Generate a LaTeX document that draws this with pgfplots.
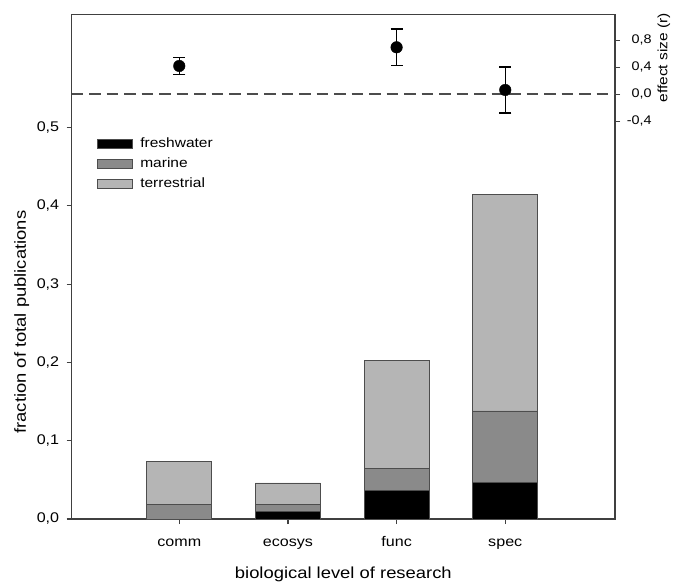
\documentclass[border=0pt]{standalone}
\usepackage{fontspec}
\setmainfont{Liberation Sans}[FakeStretch=1.15]
\usepackage{pgfplots}
\pgfplotsset{compat=1.18}

\definecolor{fresh}{HTML}{000000}
\definecolor{marine}{HTML}{8A8A8A}
\definecolor{terr}{HTML}{B5B5B5}
\definecolor{edge}{HTML}{4D4D4D}
\definecolor{axisgray}{HTML}{404040}

\pgfplotsset{
  common/.style={
    at={(71.7pt,63pt)}, anchor=south west,
    scale only axis, width=543.3pt, height=504.7pt,
    xmin=-0.99, xmax=4.01,
    tick align=outside, major tick length=5pt,
    axis line style={axisgray, line width=1.2pt},
    tick style={axisgray, line width=1.2pt},
    /pgf/number format/.cd, use comma, fixed, fixed zerofill, precision=1, assume math mode=true,
  },
}

\begin{document}
\begin{tikzpicture}
\path[use as bounding box] (0,0) rectangle (673pt,582pt);

% bars: fraction of publications
\begin{axis}[common,
  ymin=0, ymax=0.6446,
  ybar stacked, bar width=65pt,
  xtick={0,1,2,3}, xticklabels={comm,ecosys,func,spec},
  ytick={0,0.1,0.2,0.3,0.4,0.5},
  xtick pos=bottom, ytick pos=left,
  tick label style={font=\fontsize{14}{16}\selectfont},
  xticklabel style={text height=10pt, text depth=3pt, yshift=-9pt},
  yticklabel style={xshift=-4pt},
  xlabel={biological level of research},
  ylabel={fraction of total publications},
  label style={font=\fontsize{16}{18}\selectfont},
  xlabel style={at={(axis description cs:0.5,-0.11)}, anchor=center},
  ylabel style={at={(axis description cs:-0.092,0.39)}, anchor=center},
  legend image code/.code={\draw[#1] (0pt,-4.7pt) rectangle (35pt,4.7pt); \path[draw=none,fill=none] (0pt,0pt) rectangle (41pt,0.1pt);},
  legend style={at={(axis description cs:0.046,0.763)}, anchor=north west,
    draw=none, fill=none, inner xsep=0pt, inner ysep=0pt, row sep=0pt,
    font=\fontsize{13.5}{15}\selectfont,
    nodes={text height=10pt, text depth=3pt, inner ysep=3.5pt}},
  legend cell align=left,
]
\addplot[fill=fresh, draw=edge, line width=0.8pt] coordinates {(0,0) (1,0.0094) (2,0.0368) (3,0.0465)};
\addplot[fill=marine, draw=edge, line width=0.8pt] coordinates {(0,0.0184) (1,0.0090) (2,0.0272) (3,0.0915)};
\addplot[fill=terr, draw=edge, line width=0.8pt] coordinates {(0,0.0551) (1,0.0276) (2,0.1380) (3,0.2765)};
\legend{freshwater,marine,terrestrial}
\end{axis}

% effect size
\begin{axis}[common,
  ymin=-6.29, ymax=1.185,
  axis x line=none, axis y line*=right,
  ytick={-0.4,0,0.4,0.8},
  yticklabel style={font=\fontsize{12.5}{14}\selectfont, text width=28pt, align=right},
  ylabel={effect size (r)},
  ylabel style={font=\fontsize{13.5}{15}\selectfont, at={(axis description cs:1.09,0.914)}, anchor=center},
  clip=false,
]
\addplot[black!70, line width=1.8pt, dash pattern=on 11.5pt off 6pt] coordinates {(-0.99,0) (4.01,0)};
\addplot[only marks, mark=*, mark size=5.8pt, black,
  error bars/.cd, y dir=both, y explicit,
  error bar style={black, line width=1.3pt},
  error mark options={rotate=90, black, line width=1.3pt, mark size=6pt}]
  coordinates {(0,0.42) +- (0,0.13) (2,0.696) +- (0,0.27) (3,0.064) +- (0,0.34)};
\end{axis}
\end{tikzpicture}
\end{document}
